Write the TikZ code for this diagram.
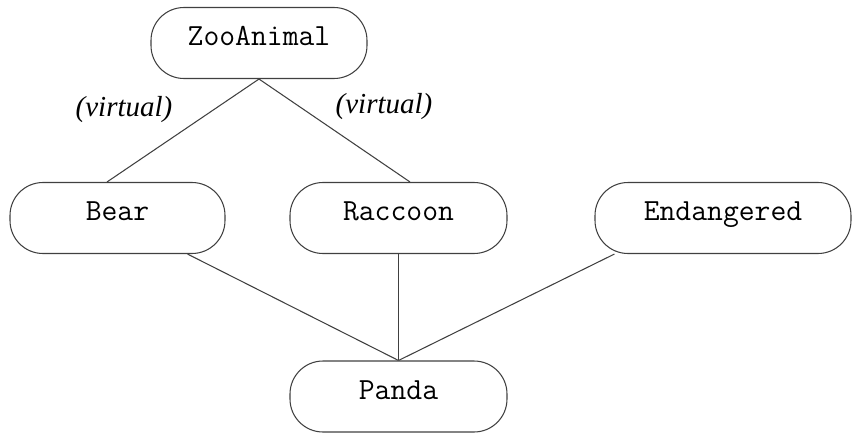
\documentclass[tikz,border=0pt]{standalone}
\usepackage{fontspec}
\setmainfont{Liberation Serif}
\tikzset{
  classbox/.style={draw=black!75,line width=0.6pt,rounded corners=0.66cm,
    minimum height=1.42cm,text height=0.4cm,text depth=0.3cm,
    font=\ttfamily\fontsize{17.5}{20}\selectfont},
  link/.style={draw=black!75,line width=0.6pt},
  virt/.style={font=\itshape\fontsize{16.5}{19}\selectfont}
}
\begin{document}
\begin{tikzpicture}
      \useasboundingbox (0,0) rectangle (17.22,8.82);

      \node[classbox,minimum width=4.32cm] (zoo) at (5.18,7.96) {ZooAnimal};
      \node[classbox,minimum width=4.30cm] (bear) at (2.35,4.46) {Bear};
      \node[classbox,minimum width=4.34cm] (raccoon) at (7.97,4.46) {Raccoon};
      \node[classbox,minimum width=5.12cm] (endangered) at (14.46,4.46) {Endangered};
      \node[classbox,minimum width=4.34cm] (panda) at (7.97,0.89) {Panda};

      \node[virt] (virtleft) at (2.48,6.62) {(virtual)};
      \node[virt] (virtright) at (7.68,6.68) {(virtual)};

      \draw[link] (zoo.south) -- ([xshift=-0.21cm]bear.north);
      \draw[link] (zoo.south) -- ([xshift=0.23cm]raccoon.north);
      \draw[link] ([xshift=1.4cm]bear.south) -- (panda.north);
      \draw[link] (raccoon.south) -- (panda.north);
      \draw[link] ([xshift=0.4cm]endangered.south west) -- (panda.north);
    \end{tikzpicture}
\end{document}
